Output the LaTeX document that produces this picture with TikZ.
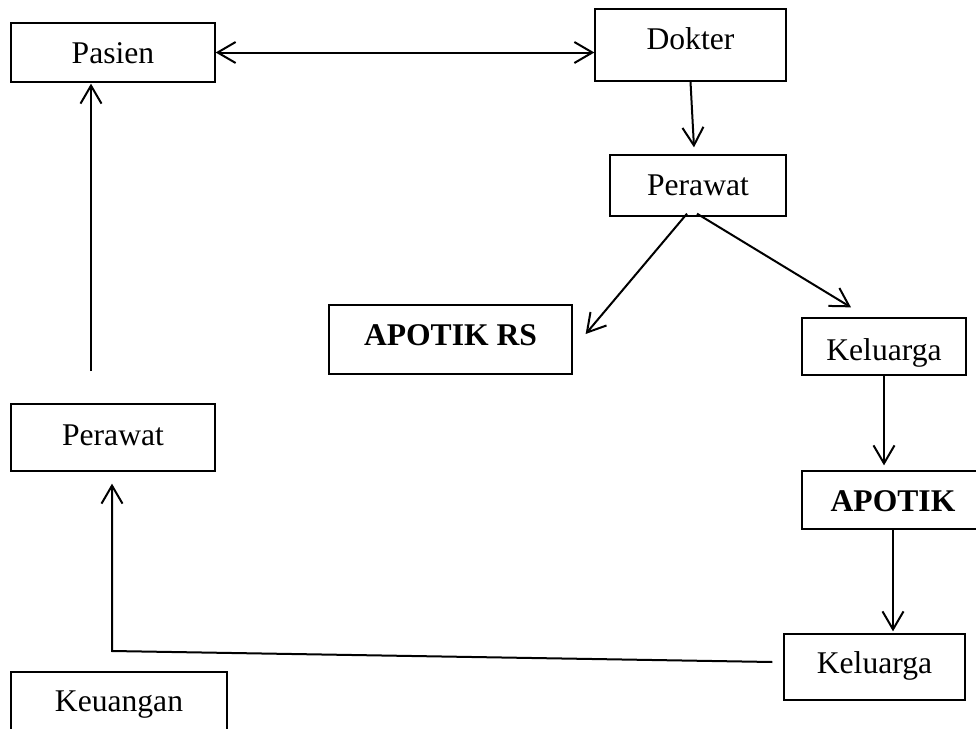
\documentclass[tikz,border=0pt]{standalone}
\usepackage{fontspec}
\setmainfont{Liberation Serif}
\usetikzlibrary{arrows.meta}
\begin{document}
\begin{tikzpicture}[x=0.5pt,y=-0.5pt,
  box/.style={draw, line width=0.65pt, inner sep=0pt, text depth=0pt,
    font=\fontsize{15.8}{19}\selectfont},
  tip/.tip={Straight Barb[length=9pt,width=10.5pt,line width=1pt]},
  arr/.style={line width=1pt, -tip},
  dblarr/.style={line width=1pt, tip-tip}]
\useasboundingbox (0,0) rectangle (976,729);
\fill[white] (0,0) rectangle (976,729);
\clip (0,0) rectangle (976,729);

\node[box, minimum width=102pt, minimum height=29.5pt, text height=10.8pt] (pas) at (113,52.5) {Pasien};
\node[box, minimum width=95.5pt, minimum height=36pt, text height=4.3pt] (dok) at (690.5,45) {Dokter};
\node[box, minimum width=88pt, minimum height=30.5pt, text height=9.5pt] (per1) at (698,185.5) {Perawat};
\node[box, minimum width=121.5pt, minimum height=34.5pt, text height=5.5pt] (apr) at (450.5,339.5) {\textbf{APOTIK RS}};
\node[box, minimum width=82pt, minimum height=28.5pt, text height=13.5pt] (kel1) at (884,346.5) {Keluarga};
\node[box, minimum width=91pt, minimum height=29pt, text height=11.7pt] (apo) at (893,500) {\textbf{APOTIK}};
\node[box, minimum width=90.5pt, minimum height=33pt, text height=6.3pt] (kel2) at (874.5,667) {Keluarga};
\node[box, minimum width=102pt, minimum height=33.5pt, text height=7.5pt] (per2) at (113,437.5) {Perawat};
\node[box, minimum width=108pt, minimum height=33pt, text height=6.7pt] (keu) at (119,705) {Keuangan};

\draw[dblarr] (pas.east) -- (pas.east -| dok.west);
\draw[arr] (dok.south) -- ([xshift=-2pt,yshift=3.5pt]per1.north);
\draw[arr] ([xshift=-5.5pt,yshift=1.5pt]per1.south) -- ([xshift=6.5pt,yshift=2.75pt]apr.east);
\draw[arr] ([xshift=-0.5pt,yshift=1.5pt]per1.south) -- ([xshift=-16.5pt,yshift=5pt]kel1.north);
\draw[arr, shorten >=2.5pt] (kel1.south) -- (kel1.south |- apo.north);
\draw[arr, shorten >=1pt] (apo.south) -- (apo.south |- kel2.north);
\coordinate (c1) at (112,651);
\draw[arr, shorten >=6pt] ([xshift=-5.5pt,yshift=2.5pt]kel2.west) -- (c1) -- (c1 |- per2.south);
\coordinate (c2) at (91,371);
\draw[arr, shorten >=0.5pt] (c2) -- (c2 |- pas.south);
\end{tikzpicture}
\end{document}
